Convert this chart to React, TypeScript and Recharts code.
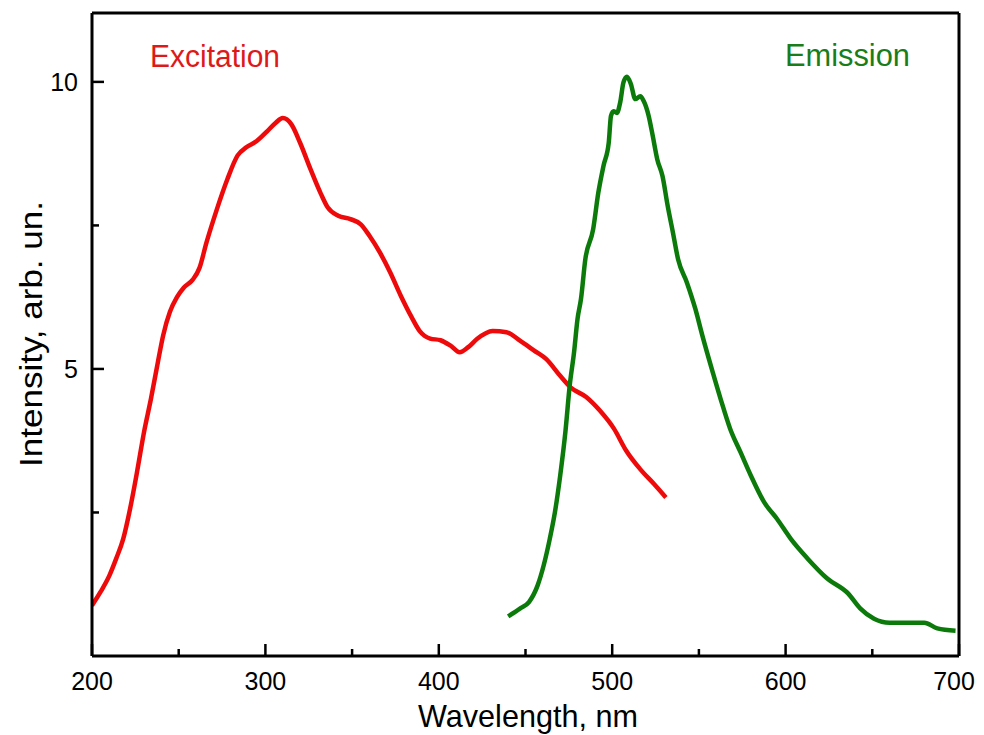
import React from "react";
import { LineChart, Line, XAxis, YAxis, ReferenceLine } from "recharts";

const excitationWavelength = [200, 205, 210, 214, 218, 222, 226, 230, 234, 238, 241, 245, 249, 253, 258, 262, 266, 272, 278, 284, 289, 295, 301, 306, 310, 315, 320, 326, 332, 336, 342, 349, 355, 360, 366, 372, 378, 384, 389, 395, 401, 407, 412, 417, 422, 431, 439, 447, 455, 462, 470, 476, 485, 493, 501, 508, 516, 524, 531];
const excitationIntensity = [0.88, 1.12, 1.4, 1.7, 2.04, 2.57, 3.21, 3.9, 4.48, 5.12, 5.58, 6.0, 6.25, 6.42, 6.55, 6.76, 7.2, 7.78, 8.3, 8.72, 8.86, 8.97, 9.14, 9.29, 9.37, 9.26, 8.94, 8.48, 8.05, 7.81, 7.67, 7.61, 7.52, 7.32, 7.03, 6.68, 6.28, 5.92, 5.66, 5.53, 5.5, 5.4, 5.29, 5.38, 5.52, 5.66, 5.64, 5.49, 5.32, 5.17, 4.88, 4.68, 4.51, 4.27, 3.96, 3.58, 3.26, 3.0, 2.76];

const emissionWavelength = [440, 447, 452, 457, 460.5, 464, 467, 470, 473, 475.5, 478, 480, 482, 484.5, 489, 492, 495, 498, 499.3, 500.8, 502.7, 504.6, 506.5, 508.5, 510.8, 513.3, 516.2, 518.1, 521, 523, 526, 529, 532, 535, 538, 543, 548, 552, 558, 562.5, 568, 574, 580, 587.6, 595, 603, 612.6, 624, 636, 643, 651, 660, 680, 687.5, 698];
const emissionIntensity = [0.69, 0.83, 0.94, 1.23, 1.58, 2.04, 2.51, 3.14, 3.9, 4.71, 5.29, 5.87, 6.22, 6.91, 7.43, 8.07, 8.54, 8.94, 9.41, 9.49, 9.46, 9.64, 9.99, 10.09, 9.96, 9.7, 9.75, 9.67, 9.41, 9.12, 8.65, 8.36, 7.84, 7.38, 6.91, 6.51, 6.04, 5.58, 4.94, 4.48, 3.96, 3.55, 3.14, 2.68, 2.39, 2.04, 1.7, 1.35, 1.09, 0.83, 0.65, 0.58, 0.58, 0.48, 0.44];

const xTicks = [200, 250, 300, 350, 400, 450, 500, 550, 600, 650, 700];
const xLabelTicks = [200, 300, 400, 500, 600, 700];
const yTicks = [2.5, 5, 7.5, 10];
const yLabelTicks = [5, 10];

const excitationData = excitationWavelength.map((w, i) => ({ w, v: excitationIntensity[i] }));
const emissionData = emissionWavelength.map((w, i) => ({ w, v: emissionIntensity[i] }));

const FONT = "'Liberation Sans', Arial, sans-serif";

const XTick = (props: any) => {
  const { x, y, payload } = props;
  const v = payload.value;
  const major = xLabelTicks.includes(v);
  const last = v === xLabelTicks[xLabelTicks.length - 1];
  return (
    <g>
      <line x1={x} x2={x} y1={y} y2={y - (major ? 12 : 7)} stroke="#000" strokeWidth={2.5} />
      {major && (
        <text x={last ? x - 5 : x} y={y + 34} textAnchor="middle" fontSize={25} fill="#000" fontFamily={FONT}>
          {v}
        </text>
      )}
    </g>
  );
};

const YTick = (props: any) => {
  const { x, y, payload } = props;
  const v = payload.value;
  const major = yLabelTicks.includes(v);
  return (
    <g>
      <line x1={x} x2={x + (major ? 12 : 7)} y1={y} y2={y} stroke="#000" strokeWidth={2.5} />
      {major && (
        <text x={x - 14} y={y + 9} textAnchor="end" fontSize={25} fill="#000" fontFamily={FONT}>
          {v}
        </text>
      )}
    </g>
  );
};

export default function App() {
  const W = 976;
  const H = 727;
  return (
    <div style={{ position: "relative", width: W, height: H, background: "#fff" }}>
      <style>{`#root{width:976px;height:727px}body{margin-bottom:0}.recharts-surface{overflow:visible}`}</style>
      <LineChart width={W} height={H} margin={{ top: 5, right: 25, left: 0, bottom: 0 }}>
        <XAxis
          type="number"
          dataKey="w"
          domain={[200, 700]}
          ticks={xTicks}
          interval={0}
          tick={<XTick />}
          tickLine={false}
          tickSize={0}
          tickMargin={0}
          axisLine={{ stroke: "#000", strokeWidth: 3 }}
          height={79}
          allowDataOverflow
        />
        <YAxis
          type="number"
          domain={[0, 11.2]}
          ticks={yTicks}
          interval={0}
          tick={<YTick />}
          tickLine={false}
          tickSize={0}
          tickMargin={0}
          axisLine={{ stroke: "#000", strokeWidth: 3 }}
          width={84}
          allowDataOverflow
        />
        <ReferenceLine y={11.2} stroke="#000" strokeWidth={3} />
        <ReferenceLine x={700} stroke="#000" strokeWidth={3} />
        <Line
          data={excitationData}
          dataKey="v"
          type="monotone"
          stroke="#ee0a0a"
          strokeWidth={4.5}
          dot={false}
          isAnimationActive={false}
        />
        <Line
          data={emissionData}
          dataKey="v"
          type="monotone"
          stroke="#0b7a0b"
          strokeWidth={4.5}
          dot={false}
          isAnimationActive={false}
        />
      </LineChart>
      <svg
        width={W}
        height={H}
        style={{ position: "absolute", left: 0, top: 0, pointerEvents: "none", overflow: "visible" }}
      >
        <text x={142} y={59} fontSize={31} fill="#dd1a1a" fontFamily={FONT} textLength={130} lengthAdjust="spacingAndGlyphs">
          Excitation
        </text>
        <text x={777} y={58} fontSize={31} fill="#1a7d1a" fontFamily={FONT} textLength={125} lengthAdjust="spacingAndGlyphs">
          Emission
        </text>
        <text x={410} y={719} fontSize={32} fill="#000" fontFamily={FONT} textLength={220} lengthAdjust="spacingAndGlyphs">
          Wavelength, nm
        </text>
        <text
          x={34}
          y={326}
          fontSize={32}
          fill="#000"
          fontFamily={FONT}
          textAnchor="middle"
          transform="rotate(-90, 34, 326)"
          textLength={266}
          lengthAdjust="spacingAndGlyphs"
        >
          Intensity, arb. un.
        </text>
      </svg>
    </div>
  );
}
